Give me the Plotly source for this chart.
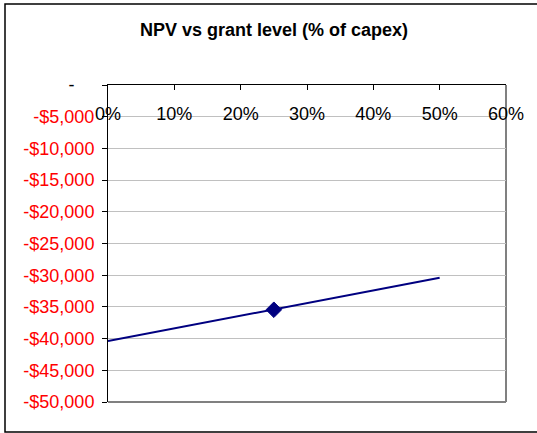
import plotly.graph_objects as go

grant_level = [0.0, 0.25, 0.50]
npv = [-40400, -35450, -30400]
marker_sizes = [0, 12, 0]

y_tick_vals = [0, -5000, -10000, -15000, -20000, -25000, -30000, -35000, -40000, -45000, -50000]
y_tick_text = ["<span style='color:black'>-\u00a0\u00a0\u00a0\u00a0</span>"] + [
    "-${:,}".format(-v) for v in y_tick_vals[1:]
]
x_tick_vals = [0, 0.1, 0.2, 0.3, 0.4, 0.5, 0.6]
x_tick_text = ["0%", "10%", "20%", "30%", "40%", "50%", "60%"]

fig = go.Figure()
fig.add_trace(go.Scatter(
    x=grant_level, y=npv, mode="lines+markers",
    line=dict(color="#000080", width=2),
    marker=dict(symbol="diamond", size=marker_sizes, color="#000080", opacity=1,
                line=dict(width=1, color="#000080")),
    showlegend=False, hoverinfo="skip",
))
# invisible helper trace for the top axis (ticks and line)
fig.add_trace(go.Scatter(x=[], y=[], xaxis="x2", yaxis="y", showlegend=False))

W, H = 537, 433
L, R, T, B = 108, 31, 85, 31
pw, ph = W - L - R, H - T - B

def px(x):
    return (x - L) / pw

def py(y):
    return (H - B - y) / ph

fig.update_layout(
    width=W, height=H,
    margin=dict(l=L, r=R, t=T, b=B, pad=0),
    paper_bgcolor="white", plot_bgcolor="white",
    hovermode=False,
    font=dict(family="Liberation Sans, Arial, sans-serif", size=18, color="black"),
    title=dict(text="<b>NPV vs grant level (% of capex)</b>", x=px(274), xref="paper",
               y=1 - 30 / H, yref="container", xanchor="center", yanchor="middle",
               font=dict(size=18, color="black")),
    xaxis=dict(range=[0, 0.6], tickvals=x_tick_vals, ticktext=x_tick_text,
               side="bottom", anchor="free", position=py(101), ticks="",
               showline=False, showgrid=False, zeroline=False,
               tickfont=dict(size=18, color="black")),
    xaxis2=dict(range=[0, 0.6], overlaying="x", matches="x", anchor="y", side="top",
                tickvals=x_tick_vals, ticks="inside", ticklen=5, tickcolor="black",
                showticklabels=False, showline=True, linecolor="black", linewidth=1,
                showgrid=False, zeroline=False),
    yaxis=dict(range=[-50000, 0], tickvals=y_tick_vals, ticktext=y_tick_text,
               ticks="outside", ticklen=5, tickcolor="black", ticklabelstandoff=4,
               showline=True, linecolor="black", linewidth=1,
               showgrid=True, gridcolor="#c0c0c0", gridwidth=1, zeroline=False,
               tickfont=dict(size=18, color="#ff0000")),
    shapes=[
        dict(type="line", xref="paper", yref="paper", x0=1, x1=1, y0=0, y1=1,
             line=dict(color="#808080", width=2), layer="below"),
        dict(type="line", xref="paper", yref="paper", x0=0, x1=1, y0=0, y1=0,
             line=dict(color="#808080", width=2), layer="below"),
        dict(type="rect", xref="paper", yref="paper", x0=px(5), x1=px(545),
             y0=py(432), y1=py(4), line=dict(color="black", width=1.5),
             fillcolor="rgba(0,0,0,0)", layer="below"),
    ],
)

fig.write_html("out.html", config={"displayModeBar": False},
               post_script="document.body.style.margin='0';document.body.style.padding='0';")
